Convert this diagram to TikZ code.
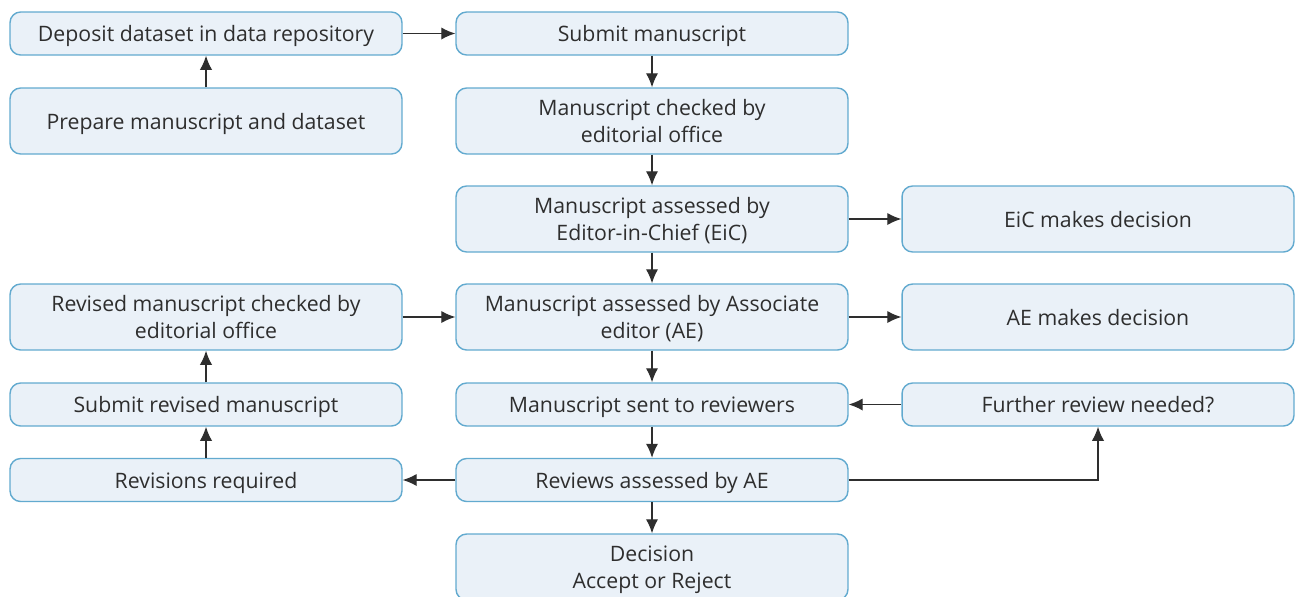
\documentclass[tikz,border=0pt]{standalone}
\usepackage{fontspec}
\setmainfont{Open Sans}
\usetikzlibrary{arrows.meta}

\definecolor{boxline}{HTML}{62AACF}
\definecolor{boxfill}{HTML}{EAF1F8}
\definecolor{ink}{HTML}{2E2E2E}

\tikzset{
  stage/.style={draw=boxline, fill=boxfill, line width=0.8pt, rounded corners=6pt,
    minimum width=7.84cm, minimum height=0.86cm, align=center, text=ink,
    font=\fontsize{12.1}{15.3}\selectfont, inner sep=2pt, text depth=0pt},
  tall/.style={minimum height=1.32cm}
}

\begin{document}
\begin{tikzpicture}[x=0.02cm, y=-0.02cm, >={Latex[length=8pt,width=7pt]}]
    \useasboundingbox (0,0) rectangle (1295,596);
    % left column
    \node[stage] (dep) at (206,33.5) {Deposit dataset in data repository};
    \node[stage, tall] (prep) at (206,121) {Prepare manuscript and dataset};
    \node[stage, tall] (rchk) at (206,317) {Revised manuscript checked by\\editorial office};
    \node[stage] (subrev) at (206,404.5) {Submit revised manuscript};
    \node[stage] (revreq) at (206,480) {Revisions required};
    % middle column
    \node[stage] (sub) at (652,33.5) {Submit manuscript};
    \node[stage, tall] (chk) at (652,121) {Manuscript checked by\\editorial office};
    \node[stage, tall] (eic) at (652,219) {Manuscript assessed by\\Editor-in-Chief (EiC)};
    \node[stage, tall] (ae) at (652,317) {Manuscript assessed by Associate\\editor (AE)};
    \node[stage] (sent) at (652,404.5) {Manuscript sent to reviewers};
    \node[stage] (rev) at (652,480) {Reviews assessed by AE};
    \node[stage, tall] (dec) at (652,567) {Decision\\Accept or Reject};
    % right column
    \node[stage, tall] (eicdec) at (1098,219) {EiC makes decision};
    \node[stage, tall] (aedec) at (1098,317) {AE makes decision};
    \node[stage] (further) at (1098,404.5) {Further review needed?};

    \begin{scope}[draw=ink, line width=0.8pt]
    \draw[->] (prep) -- (dep);
    \draw[->] (dep) -- (sub);
    \draw[->] (sub) -- (chk);
    \draw[->] (chk) -- (eic);
    \draw[->] (eic) -- (eicdec);
    \draw[->] (eic) -- (ae);
    \draw[->] (rchk) -- (ae);
    \draw[->] (ae) -- (aedec);
    \draw[->] (ae) -- (sent);
    \draw[->] (further) -- (sent);
    \draw[->] (sent) -- (rev);
    \draw[->] (rev) -- (revreq);
    \draw[->] (revreq) -- (subrev);
    \draw[->] (subrev) -- (rchk);
    \draw[->] (rev) -| (further);
    \draw[->] (rev) -- (dec);
    \end{scope}
\end{tikzpicture}
\end{document}
